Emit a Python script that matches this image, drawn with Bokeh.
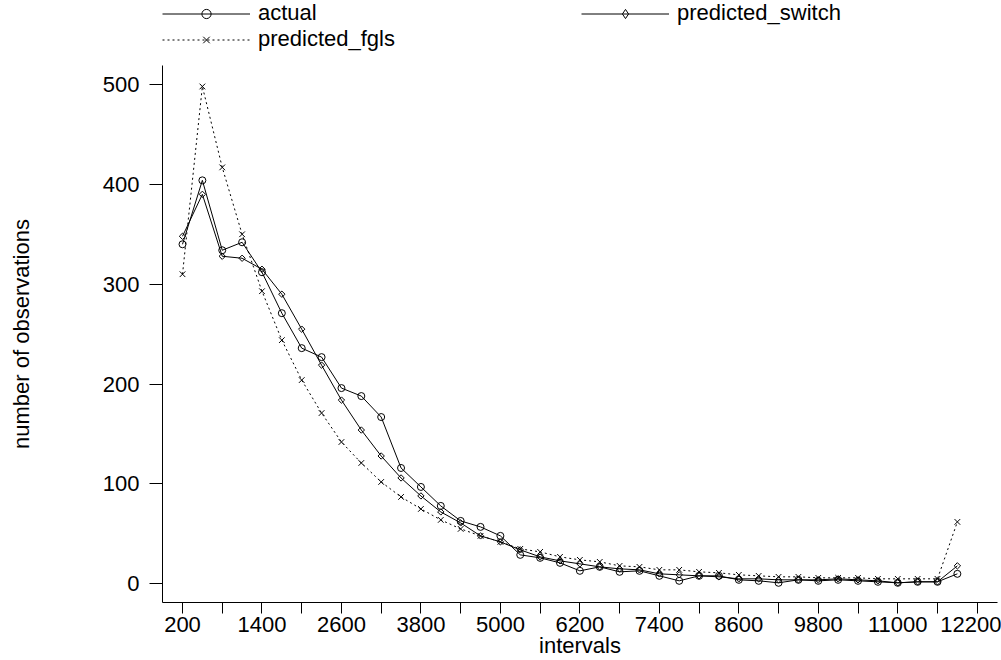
import numpy as np
from bokeh.plotting import figure
from bokeh.layouts import column
from bokeh.models import FixedTicker, Legend, LegendItem, Range1d
from bokeh.embed import file_html
from bokeh.resources import INLINE

# ---- data ----
intervals = [200, 500, 800, 1100, 1400, 1700, 2000, 2300, 2600, 2900,
             3200, 3500, 3800, 4100, 4400, 4700, 5000, 5300, 5600, 5900,
             6200, 6500, 6800, 7100, 7400, 7700, 8000, 8300, 8600, 8900,
             9200, 9500, 9800, 10100, 10400, 10700, 11000, 11300, 11600, 11900]
actual = [340, 404, 334, 342, 312, 271, 236, 227, 196, 188,
          167, 116, 97, 78, 63, 57, 48, 29, 26, 21,
          13, 17, 12, 13, 8, 3, 8, 8, 4, 3,
          1, 4, 3, 4, 3, 2, 1, 2, 2, 10]
predicted_switch = [348, 390, 328, 326, 315, 290, 255, 219, 184, 154,
                    128, 106, 88, 72, 61, 48, 42, 34, 27, 23,
                    20, 17, 15, 14, 10, 9, 8, 7, 5, 5,
                    4, 4, 4, 5, 4, 3, 1, 2, 2, 18]
predicted_fgls = [310, 498, 417, 350, 293, 244, 204, 171, 142, 121,
                  102, 87, 75, 64, 55, 48, 42, 35, 32, 27,
                  24, 22, 18, 17, 14, 14, 12, 11, 9, 8,
                  7, 7, 6, 6, 6, 5, 5, 5, 5, 62]
series_names = ["actual", "predicted_fgls", "predicted_switch"]
x_major_ticks = [200, 1400, 2600, 3800, 5000, 6200, 7400, 8600, 9800, 11000, 12200]
x_minor_ticks = [800, 2000, 3200, 4400, 5600, 6800, 8000, 9200, 10400, 11600]
y_ticks = [0, 100, 200, 300, 400, 500]

FONT = "Liberation Sans"
FS = "22px"

values = {"actual": actual, "predicted_switch": predicted_switch,
          "predicted_fgls": predicted_fgls}
LINE = {
    "actual": dict(line_color="black", line_width=1),
    "predicted_switch": dict(line_color="black", line_width=1),
    "predicted_fgls": dict(line_color="black", line_width=1, line_dash="2 3"),
}
MARK = {
    "actual": dict(marker="circle", size=7, fill_color=None, line_color="black", line_width=1),
    "predicted_switch": dict(marker="square", angle=np.pi / 4, size=4.5, fill_color=None,
                             line_color="black", line_width=1),
    "predicted_fgls": dict(marker="x", size=8, line_color="black", line_width=1),
}
LEG_MARK = {
    "actual": dict(marker="circle", size=5, fill_color=None, line_color="black", line_width=1),
    "predicted_switch": dict(marker="diamond", size=7, fill_color=None,
                             line_color="black", line_width=1),
    "predicted_fgls": dict(marker="x", size=6, line_color="black", line_width=1),
}

# ---------------- main chart ----------------
p = figure(width=1001, height=595,
           x_range=Range1d(-102, 12506), y_range=Range1d(-18.7, 519),
           output_backend="svg", toolbar_location=None,
           min_border_left=162, min_border_right=4,
           min_border_top=0, min_border_bottom=58)
p.outline_line_color = None
p.xgrid.visible = False
p.ygrid.visible = False

for name in ["actual", "predicted_switch", "predicted_fgls"]:
    p.line(intervals, values[name], **LINE[name])
    p.scatter(intervals, values[name], **MARK[name])

xa = p.xaxis[0]
xa.ticker = FixedTicker(ticks=x_major_ticks, minor_ticks=x_minor_ticks)
xa.major_tick_out = 11
xa.major_tick_in = 0
xa.minor_tick_out = 11
xa.minor_tick_in = 0
xa.major_label_standoff = 3
xa.axis_label = "intervals"
xa.axis_label_standoff = -2
for a in (p.xaxis[0], p.yaxis[0]):
    a.axis_line_color = "black"
    a.major_tick_line_color = "black"
    a.minor_tick_line_color = "black"
    a.major_label_text_font = FONT
    a.major_label_text_font_size = FS
    a.major_label_text_color = "black"
    a.axis_label_text_font = FONT
    a.axis_label_text_font_size = FS
    a.axis_label_text_font_style = "normal"
    a.axis_label_text_color = "black"

ya = p.yaxis[0]
ya.ticker = FixedTicker(ticks=y_ticks, minor_ticks=[])
ya.major_tick_out = 13
ya.major_tick_in = 0
ya.minor_tick_out = 0
ya.minor_tick_in = 0
ya.major_label_standoff = 10
ya.axis_label = "number of observations"
ya.axis_label_standoff = 66

# ---------------- legend strip above ----------------
# the strip's ranges lie far outside the data, so only the legend shows
pl = figure(width=1001, height=65, x_range=Range1d(0, 1), y_range=Range1d(-1000, -999),
            output_backend="svg", toolbar_location=None,
            x_axis_location=None, y_axis_location=None,
            min_border_left=162, min_border_right=4,
            min_border_top=0, min_border_bottom=0)
pl.outline_line_color = None
pl.xgrid.visible = False
pl.ygrid.visible = False
items = []
for name in series_names:
    lr = pl.line(intervals, values[name], **LINE[name])
    sr = pl.scatter(intervals, values[name], **LEG_MARK[name])
    items.append(LegendItem(label=name, renderers=[lr, sr]))
legend = Legend(items=items, ncols=2, location="top_left",
                glyph_width=88, glyph_height=23, label_height=23,
                label_width=323, label_standoff=8,
                spacing=0, padding=0, margin=0, border_line_color=None,
                background_fill_alpha=0, label_text_font=FONT,
                label_text_font_size=FS, label_text_color="black",
                label_text_line_height=1.0)
pl.add_layout(legend)

open("out.html", "w").write(file_html(column(pl, p, spacing=0), INLINE))
